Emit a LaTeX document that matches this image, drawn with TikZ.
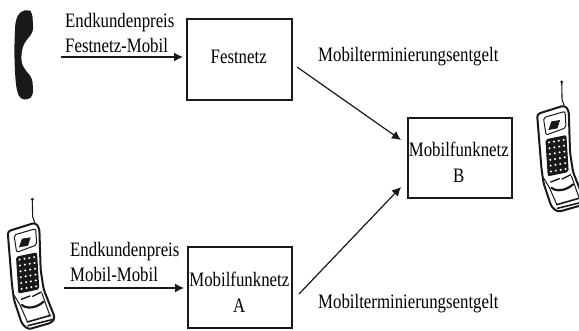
\documentclass[tikz,border=0pt]{standalone}
\usepackage{fontspec}
\setmainfont[FakeStretch=0.82]{Liberation Serif}
\usetikzlibrary{arrows.meta}
\definecolor{ink}{gray}{0.1}
\tikzset{
  box/.style={draw=ink,line width=1.8pt,fill=white,inner sep=0pt},
  lbl/.style={inner sep=0pt,align=left,font=\fontsize{20.5}{25}\selectfont},
  ctr/.style={inner sep=0pt,align=center,font=\fontsize{20.5}{26}\selectfont},
  conn/.style={draw=ink,line width=1.2pt,-{Latex[length=9pt,width=9pt]}},
  phone/.pic={
    \begin{scope}[x=0.3333pt,y=-0.3333pt,line join=round,line cap=round]
      \draw[line width=1.1pt,ink] (97,28) -- (98,80) -- (104,98);
      \fill[ink] (97,28) circle (5);
      \draw[line width=2pt,ink,fill=white,rounded corners=3pt]
        (23,124) -- (106,98) -- (118,114) -- (122,240) -- (131,298) -- (165,384)
        -- (155,398) -- (85,418) -- (66,402) -- (42,330) -- (36,285) -- cycle;
      \draw[line width=1pt,ink,rounded corners=2pt]
        (42,135) -- (107,116) -- (110,165) -- (50,187) -- cycle;
      \fill[ink] (66,146) -- (92,142) -- (84,167) -- (57,172) -- cycle;
      \fill[ink,rounded corners=2pt] (48,200) -- (111,187) -- (118,298) -- (55,311) -- cycle;
      \foreach \r in {0,...,5} \foreach \c in {0,1,2,3}
        \fill[white] ({59+\c*14.5+\r*1.2},{209-\c*2.5+\r*17.5}) circle (3.4);
      \draw[line width=1.4pt,ink] (64,328) -- (90,318) (98,319) -- (124,306);
      \draw[line width=2.2pt,ink] (66,345) .. controls (80,358) and (110,354) .. (131,335);
      \draw[line width=1pt,ink] (42,315) -- (60,345) -- (82,395);
      \draw[line width=1pt,ink] (126,310) -- (150,378);
      \draw[line width=1.6pt,ink] (82,396) -- (152,376) (84,407) -- (160,388);
    \end{scope}
  }
}
\begin{document}
\begin{tikzpicture}[x=1pt,y=-1pt]
\useasboundingbox (0,0) rectangle (579,330);
\node[box,minimum width=105pt,minimum height=81pt] (fest) at (239.5,59.5) {};
\node[box,minimum width=104pt,minimum height=80pt] (mb) at (460,158) {};
\node[box,minimum width=104pt,minimum height=81pt] (ma) at (240,287.5) {};
\node[ctr,anchor=base] (festT) at (238.7,63) {Festnetz};
\node[ctr] (mbT) at (458.8,162.5) {Mobilfunknetz\\B};
\node[ctr] (maT) at (239.3,292.5) {Mobilfunknetz\\A};
\node[lbl,anchor=west] (l1) at (65,32.5) {Endkundenpreis\\Festnetz-Mobil};
\node[lbl,anchor=west] (l2) at (70,262) {Endkundenpreis\\Mobil-Mobil};
\node[lbl,anchor=base west] (l3) at (318,61) {Mobilterminierungsentgelt};
\node[lbl,anchor=base west] (l4) at (318,308) {Mobilterminierungsentgelt};
\coordinate (s1) at (61,57);
\coordinate (s2) at (64,288);
\coordinate (t1) at (183,57);
\coordinate (t2) at (184,288);
\coordinate (d1a) at (297,67);
\coordinate (d1b) at (401,140);
\coordinate (d2a) at (299,294);
\coordinate (d2b) at (401,187);
\draw[conn] (s1) -- (t1);
\draw[conn] (s2) -- (t2);
\draw[conn] (d1a) -- (d1b);
\draw[conn] (d2a) -- (d2b);
% handset
\begin{scope}[x=0.3333pt,y=-0.3333pt]
\fill[ink,rounded corners=4pt] (60,35) -- (85,28) -- (97,38) -- (100,95) -- (72,130)
  .. controls (63,160) and (63,185) .. (72,205) -- (97,235) -- (100,285) -- (85,300)
  -- (60,297) -- (50,270) .. controls (42,200) and (42,130) .. (47,60) -- cycle;
\end{scope}
\pic at (0,190) {phone};
\pic at (529.4,72.7) {phone};
\end{tikzpicture}
\end{document}
